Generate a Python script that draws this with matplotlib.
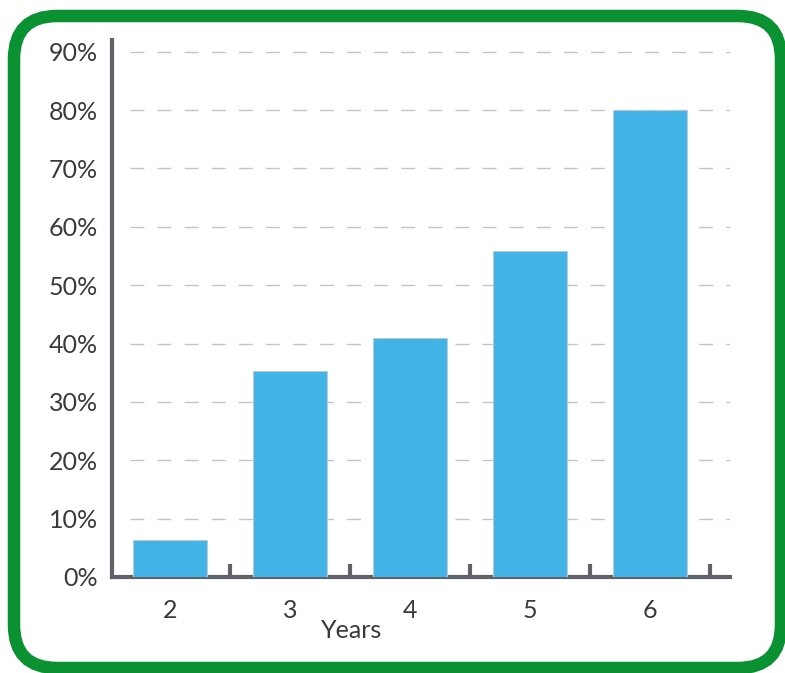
import matplotlib
matplotlib.use("Agg")
import matplotlib.pyplot as plt
from matplotlib.patches import FancyBboxPatch

# data
years = ['2', '3', '4', '5', '6']
share = [6.3, 35.3, 40.9, 55.8, 80.0]
yticks = [0, 10, 20, 30, 40, 50, 60, 70, 80, 90]

plt.rcParams['font.family'] = ['Lato', 'DejaVu Sans']
label_kw = dict(fontsize=18, color='#3a3a3a')

fig = plt.figure(figsize=(7.85, 6.73), dpi=100)
fig.patch.set_facecolor('white')

# green rounded frame
frame = FancyBboxPatch((14 / 785, 5 / 673), 767 / 785, 652 / 673,
                       boxstyle="round,pad=0,rounding_size=0.055",
                       transform=fig.transFigure, fill=False,
                       edgecolor='#0a9132', linewidth=9, mutation_aspect=785 / 673)
fig.patches.append(frame)

ax = fig.add_axes([112 / 785, 96 / 673, 618 / 785, 537 / 673])
x = list(range(len(years)))
ax.bar(x, share, width=0.61, color='#41b3e6', edgecolor='#b9c9d2', linewidth=0.8, zorder=3)

ax.set_xlim(-0.483, 4.667)
ax.set_ylim(0, 92)

# dashed grid
for v in yticks[1:]:
    ax.plot([-0.33, 4.667], [v, v], color='#c4c4c4', linewidth=1.0,
            dashes=(10, 9.5), zorder=1)

ax.set_yticks(yticks)
ax.set_yticklabels([f'{v}%' for v in yticks], **label_kw)
ax.set_xticks(x)
ax.set_xticklabels(years, **label_kw)
ax.tick_params(axis='both', length=0, pad=10)
ax.tick_params(axis='x', pad=16)

# small separator ticks between bars
for b in [0.5, 1.5, 2.5, 3.5, 4.5]:
    ax.plot([b, b], [0, 2.2], color='#5f6268', linewidth=3, solid_capstyle='butt', zorder=4)

for s in ['top', 'right']:
    ax.spines[s].set_visible(False)
for s in ['left', 'bottom']:
    ax.spines[s].set_color('#5f6268')
    ax.spines[s].set_linewidth(3)

fig.text(352 / 785, 1 - 630 / 673, 'Years', ha='center', va='center', **label_kw)

fig.savefig('out.png', dpi=100)
